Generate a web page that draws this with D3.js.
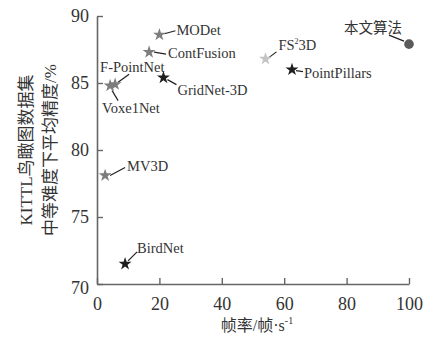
<!DOCTYPE html>
<html>
<head>
<meta charset="utf-8">
<script src="https://cdn.jsdelivr.net/npm/d3@7"></script>
<style>
  body { margin: 0; background: #fff; }
  text { font-family: "Liberation Serif", "Noto Sans CJK SC", serif; fill: #333; }
</style>
</head>
<body>
<div id="chart"></div>
<script>
// data
var methods = ["本文算法", "FS²3D", "PointPillars", "MODet", "ContFusion", "GridNet-3D", "F-PointNet", "Voxe1Net", "MV3D", "BirdNet"];
var fps = [100, 54, 62.5, 20, 16.7, 21.3, 5.8, 4.2, 2.6, 9.0];
var ap = [87.9, 86.8, 86.0, 88.6, 87.3, 85.4, 84.9, 84.8, 78.1, 71.5];
var xTicks = [0, 20, 40, 60, 80, 100];
var yTicks = [70, 75, 80, 85, 90];

// marker kind per method
var kinds = ["circle", "light", "black", "gray", "gray", "black", "gray", "gray", "gray", "black"];
var kindColor = { circle: "#5a5a5a", light: "#c4c4c4", black: "#1e1e1e", gray: "#7d7d7d" };

// label layout: text offset [dx, dy] and leader line [x1, y1, x2, y2] relative to the point
var labelPos = [
  [-65, -11, -20, -9, -5, -3],
  [13, -9, 3, -1, 11, -7],
  [12, 8, 4, 1, 11, 2],
  [17, 0, 5, -1, 16, -4],
  [19, 6, 5, 0, 17, 2],
  [14, 17, 4, 2, 13, 7],
  [-15, -12, 3, -2, 14, -10],
  [-8, 27, 2, 5, 8, 15],
  [22, -4, 5, 0, 20, -8],
  [12, -11, 3, -3, 12, -12]
];

var width = 434, height = 337;
var svg = d3.select("#chart").append("svg")
  .attr("width", width)
  .attr("height", height);

var x = d3.scaleLinear().domain([0, 100]).range([97, 409]);
var y = d3.scaleLinear().domain([70, 90]).range([284, 16]);

var axisColor = "#666";

// x axis, ticks pointing inward
var gx = svg.append("g")
  .attr("transform", "translate(0," + y(70) + ")")
  .call(d3.axisBottom(x).tickValues(xTicks).tickSizeInner(-6).tickSizeOuter(0).tickPadding(10));
gx.select(".domain").attr("stroke", axisColor).attr("stroke-width", 1.6);
gx.selectAll(".tick line").attr("stroke", axisColor).attr("stroke-width", 1.4);
gx.selectAll(".tick text")
  .attr("font-size", 18).attr("fill", "#333")
  .attr("font-family", "Liberation Serif, serif")
  .attr("dy", "0.9em");

// y axis
var gy = svg.append("g")
  .attr("transform", "translate(" + x(0) + ",0)")
  .call(d3.axisLeft(y).tickValues(yTicks).tickSizeInner(-6).tickSizeOuter(0).tickPadding(8));
gy.select(".domain").attr("stroke", axisColor).attr("stroke-width", 1.6);
gy.selectAll(".tick line").attr("stroke", axisColor).attr("stroke-width", 1.4);
gy.selectAll(".tick text")
  .attr("font-size", 18).attr("fill", "#333")
  .attr("font-family", "Liberation Serif, serif");
// the 70 label sits a bit lower, like the original
gy.selectAll(".tick text").filter(function(d) { return d === 70; }).attr("dy", "0.55em");

// axis titles
svg.append("text")
  .attr("transform", "translate(32,150) rotate(-90)")
  .attr("text-anchor", "middle")
  .attr("font-size", 17)
  .text("KITTL鸟瞰图数据集");
svg.append("text")
  .attr("transform", "translate(56,150) rotate(-90)")
  .attr("text-anchor", "middle")
  .attr("font-size", 17)
  .text("中等难度下平均精度/%");

var xt = svg.append("text")
  .attr("x", 257).attr("y", 331)
  .attr("text-anchor", "middle")
  .attr("font-size", 16);
xt.append("tspan").text("帧率/帧·s");
xt.append("tspan").attr("font-size", 10).attr("dy", -7).text("-1");

// leader lines
var idx = d3.range(methods.length);
svg.append("g").selectAll("line")
  .data(idx)
  .join("line")
  .attr("x1", function(i) { return x(fps[i]) + labelPos[i][2]; })
  .attr("y1", function(i) { return y(ap[i]) + labelPos[i][3]; })
  .attr("x2", function(i) { return x(fps[i]) + labelPos[i][4]; })
  .attr("y2", function(i) { return y(ap[i]) + labelPos[i][5]; })
  .attr("stroke", "#222")
  .attr("stroke-width", 1.2);

// markers
var star = d3.symbol().type(d3.symbolStar).size(52);
svg.append("g").selectAll("path")
  .data(idx.filter(function(i) { return kinds[i] !== "circle"; }))
  .join("path")
  .attr("d", star)
  .attr("transform", function(i) { return "translate(" + x(fps[i]) + "," + y(ap[i]) + ")"; })
  .attr("fill", function(i) { return kindColor[kinds[i]]; });

svg.append("g").selectAll("circle")
  .data(idx.filter(function(i) { return kinds[i] === "circle"; }))
  .join("circle")
  .attr("cx", function(i) { return x(fps[i]); })
  .attr("cy", function(i) { return y(ap[i]); })
  .attr("r", 4.8)
  .attr("fill", kindColor.circle);

// point labels
var labels = svg.append("g").selectAll("text")
  .data(idx)
  .join("text")
  .attr("x", function(i) { return x(fps[i]) + labelPos[i][0]; })
  .attr("y", function(i) { return y(ap[i]) + labelPos[i][1]; })
  .attr("font-size", 14.5);

labels.each(function(i) {
  var t = d3.select(this);
  if (methods[i] === "FS²3D") {
    t.append("tspan").text("FS");
    t.append("tspan").attr("font-size", 8).attr("dy", -6).text("2");
    t.append("tspan").attr("dy", 6).text("3D");
  } else {
    t.text(methods[i]);
  }
});
</script>
</body>
</html>
